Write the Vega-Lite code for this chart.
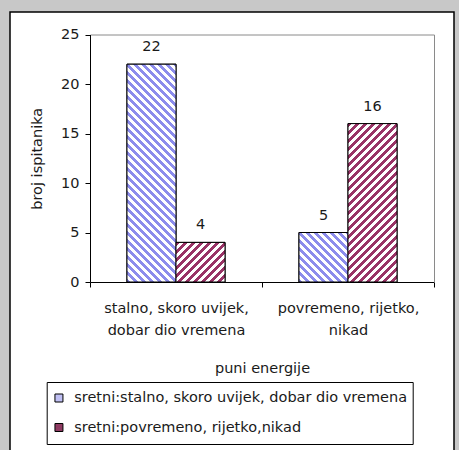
{
 "$schema": "https://vega.github.io/schema/vega-lite/v6.json",
 "autosize": {"type": "none"},
 "padding": {"left": 10, "top": 12, "right": 5, "bottom": -1},
 "width": 444,
 "height": 439,
 "background": "#c8c8c8",
 "config": {
  "view": {"fill": "white", "stroke": "black", "strokeWidth": 1.5},
  "font": "DejaVu Sans",
  "axis": {"labelFont": "DejaVu Sans", "titleFont": "DejaVu Sans", "labelFontSize": 14.5, "titleFontSize": 14.5, "titleFontWeight": "normal", "labelColor": "#1a1a1a", "titleColor": "#1a1a1a", "domainColor": "black", "tickColor": "black", "grid": false},
  "legend": {"labelFont": "DejaVu Sans", "labelFontSize": 14.5, "labelColor": "#1a1a1a"}
 },
 "params": [
  {"name": "bst", "value": [
{"offset":0,"color":"#8c8cec"},{"offset":0.0125,"color":"#8c8cec"},{"offset":0.0125,"color":"#fff"},{"offset":0.025,"color":"#fff"},
{"offset":0.025,"color":"#8c8cec"},{"offset":0.0375,"color":"#8c8cec"},{"offset":0.0375,"color":"#fff"},{"offset":0.05,"color":"#fff"},
{"offset":0.05,"color":"#8c8cec"},{"offset":0.0625,"color":"#8c8cec"},{"offset":0.0625,"color":"#fff"},{"offset":0.075,"color":"#fff"},
{"offset":0.075,"color":"#8c8cec"},{"offset":0.0875,"color":"#8c8cec"},{"offset":0.0875,"color":"#fff"},{"offset":0.1,"color":"#fff"},
{"offset":0.1,"color":"#8c8cec"},{"offset":0.1125,"color":"#8c8cec"},{"offset":0.1125,"color":"#fff"},{"offset":0.125,"color":"#fff"},
{"offset":0.125,"color":"#8c8cec"},{"offset":0.1375,"color":"#8c8cec"},{"offset":0.1375,"color":"#fff"},{"offset":0.15,"color":"#fff"},
{"offset":0.15,"color":"#8c8cec"},{"offset":0.1625,"color":"#8c8cec"},{"offset":0.1625,"color":"#fff"},{"offset":0.175,"color":"#fff"},
{"offset":0.175,"color":"#8c8cec"},{"offset":0.1875,"color":"#8c8cec"},{"offset":0.1875,"color":"#fff"},{"offset":0.2,"color":"#fff"},
{"offset":0.2,"color":"#8c8cec"},{"offset":0.2125,"color":"#8c8cec"},{"offset":0.2125,"color":"#fff"},{"offset":0.225,"color":"#fff"},
{"offset":0.225,"color":"#8c8cec"},{"offset":0.2375,"color":"#8c8cec"},{"offset":0.2375,"color":"#fff"},{"offset":0.25,"color":"#fff"},
{"offset":0.25,"color":"#8c8cec"},{"offset":0.2625,"color":"#8c8cec"},{"offset":0.2625,"color":"#fff"},{"offset":0.275,"color":"#fff"},
{"offset":0.275,"color":"#8c8cec"},{"offset":0.2875,"color":"#8c8cec"},{"offset":0.2875,"color":"#fff"},{"offset":0.3,"color":"#fff"},
{"offset":0.3,"color":"#8c8cec"},{"offset":0.3125,"color":"#8c8cec"},{"offset":0.3125,"color":"#fff"},{"offset":0.325,"color":"#fff"},
{"offset":0.325,"color":"#8c8cec"},{"offset":0.3375,"color":"#8c8cec"},{"offset":0.3375,"color":"#fff"},{"offset":0.35,"color":"#fff"},
{"offset":0.35,"color":"#8c8cec"},{"offset":0.3625,"color":"#8c8cec"},{"offset":0.3625,"color":"#fff"},{"offset":0.375,"color":"#fff"},
{"offset":0.375,"color":"#8c8cec"},{"offset":0.3875,"color":"#8c8cec"},{"offset":0.3875,"color":"#fff"},{"offset":0.4,"color":"#fff"},
{"offset":0.4,"color":"#8c8cec"},{"offset":0.4125,"color":"#8c8cec"},{"offset":0.4125,"color":"#fff"},{"offset":0.425,"color":"#fff"},
{"offset":0.425,"color":"#8c8cec"},{"offset":0.4375,"color":"#8c8cec"},{"offset":0.4375,"color":"#fff"},{"offset":0.45,"color":"#fff"},
{"offset":0.45,"color":"#8c8cec"},{"offset":0.4625,"color":"#8c8cec"},{"offset":0.4625,"color":"#fff"},{"offset":0.475,"color":"#fff"},
{"offset":0.475,"color":"#8c8cec"},{"offset":0.4875,"color":"#8c8cec"},{"offset":0.4875,"color":"#fff"},{"offset":0.5,"color":"#fff"},
{"offset":0.5,"color":"#8c8cec"},{"offset":0.5125,"color":"#8c8cec"},{"offset":0.5125,"color":"#fff"},{"offset":0.525,"color":"#fff"},
{"offset":0.525,"color":"#8c8cec"},{"offset":0.5375,"color":"#8c8cec"},{"offset":0.5375,"color":"#fff"},{"offset":0.55,"color":"#fff"},
{"offset":0.55,"color":"#8c8cec"},{"offset":0.5625,"color":"#8c8cec"},{"offset":0.5625,"color":"#fff"},{"offset":0.575,"color":"#fff"},
{"offset":0.575,"color":"#8c8cec"},{"offset":0.5875,"color":"#8c8cec"},{"offset":0.5875,"color":"#fff"},{"offset":0.6,"color":"#fff"},
{"offset":0.6,"color":"#8c8cec"},{"offset":0.6125,"color":"#8c8cec"},{"offset":0.6125,"color":"#fff"},{"offset":0.625,"color":"#fff"},
{"offset":0.625,"color":"#8c8cec"},{"offset":0.6375,"color":"#8c8cec"},{"offset":0.6375,"color":"#fff"},{"offset":0.65,"color":"#fff"},
{"offset":0.65,"color":"#8c8cec"},{"offset":0.6625,"color":"#8c8cec"},{"offset":0.6625,"color":"#fff"},{"offset":0.675,"color":"#fff"},
{"offset":0.675,"color":"#8c8cec"},{"offset":0.6875,"color":"#8c8cec"},{"offset":0.6875,"color":"#fff"},{"offset":0.7,"color":"#fff"},
{"offset":0.7,"color":"#8c8cec"},{"offset":0.7125,"color":"#8c8cec"},{"offset":0.7125,"color":"#fff"},{"offset":0.725,"color":"#fff"},
{"offset":0.725,"color":"#8c8cec"},{"offset":0.7375,"color":"#8c8cec"},{"offset":0.7375,"color":"#fff"},{"offset":0.75,"color":"#fff"},
{"offset":0.75,"color":"#8c8cec"},{"offset":0.7625,"color":"#8c8cec"},{"offset":0.7625,"color":"#fff"},{"offset":0.775,"color":"#fff"},
{"offset":0.775,"color":"#8c8cec"},{"offset":0.7875,"color":"#8c8cec"},{"offset":0.7875,"color":"#fff"},{"offset":0.8,"color":"#fff"},
{"offset":0.8,"color":"#8c8cec"},{"offset":0.8125,"color":"#8c8cec"},{"offset":0.8125,"color":"#fff"},{"offset":0.825,"color":"#fff"},
{"offset":0.825,"color":"#8c8cec"},{"offset":0.8375,"color":"#8c8cec"},{"offset":0.8375,"color":"#fff"},{"offset":0.85,"color":"#fff"}
  ]},
  {"name": "rst", "value": [
{"offset":0,"color":"#993366"},{"offset":0.0125,"color":"#993366"},{"offset":0.0125,"color":"#fff"},{"offset":0.025,"color":"#fff"},
{"offset":0.025,"color":"#993366"},{"offset":0.0375,"color":"#993366"},{"offset":0.0375,"color":"#fff"},{"offset":0.05,"color":"#fff"},
{"offset":0.05,"color":"#993366"},{"offset":0.0625,"color":"#993366"},{"offset":0.0625,"color":"#fff"},{"offset":0.075,"color":"#fff"},
{"offset":0.075,"color":"#993366"},{"offset":0.0875,"color":"#993366"},{"offset":0.0875,"color":"#fff"},{"offset":0.1,"color":"#fff"},
{"offset":0.1,"color":"#993366"},{"offset":0.1125,"color":"#993366"},{"offset":0.1125,"color":"#fff"},{"offset":0.125,"color":"#fff"},
{"offset":0.125,"color":"#993366"},{"offset":0.1375,"color":"#993366"},{"offset":0.1375,"color":"#fff"},{"offset":0.15,"color":"#fff"},
{"offset":0.15,"color":"#993366"},{"offset":0.1625,"color":"#993366"},{"offset":0.1625,"color":"#fff"},{"offset":0.175,"color":"#fff"},
{"offset":0.175,"color":"#993366"},{"offset":0.1875,"color":"#993366"},{"offset":0.1875,"color":"#fff"},{"offset":0.2,"color":"#fff"},
{"offset":0.2,"color":"#993366"},{"offset":0.2125,"color":"#993366"},{"offset":0.2125,"color":"#fff"},{"offset":0.225,"color":"#fff"},
{"offset":0.225,"color":"#993366"},{"offset":0.2375,"color":"#993366"},{"offset":0.2375,"color":"#fff"},{"offset":0.25,"color":"#fff"},
{"offset":0.25,"color":"#993366"},{"offset":0.2625,"color":"#993366"},{"offset":0.2625,"color":"#fff"},{"offset":0.275,"color":"#fff"},
{"offset":0.275,"color":"#993366"},{"offset":0.2875,"color":"#993366"},{"offset":0.2875,"color":"#fff"},{"offset":0.3,"color":"#fff"},
{"offset":0.3,"color":"#993366"},{"offset":0.3125,"color":"#993366"},{"offset":0.3125,"color":"#fff"},{"offset":0.325,"color":"#fff"},
{"offset":0.325,"color":"#993366"},{"offset":0.3375,"color":"#993366"},{"offset":0.3375,"color":"#fff"},{"offset":0.35,"color":"#fff"},
{"offset":0.35,"color":"#993366"},{"offset":0.3625,"color":"#993366"},{"offset":0.3625,"color":"#fff"},{"offset":0.375,"color":"#fff"},
{"offset":0.375,"color":"#993366"},{"offset":0.3875,"color":"#993366"},{"offset":0.3875,"color":"#fff"},{"offset":0.4,"color":"#fff"},
{"offset":0.4,"color":"#993366"},{"offset":0.4125,"color":"#993366"},{"offset":0.4125,"color":"#fff"},{"offset":0.425,"color":"#fff"},
{"offset":0.425,"color":"#993366"},{"offset":0.4375,"color":"#993366"},{"offset":0.4375,"color":"#fff"},{"offset":0.45,"color":"#fff"},
{"offset":0.45,"color":"#993366"},{"offset":0.4625,"color":"#993366"},{"offset":0.4625,"color":"#fff"},{"offset":0.475,"color":"#fff"},
{"offset":0.475,"color":"#993366"},{"offset":0.4875,"color":"#993366"},{"offset":0.4875,"color":"#fff"},{"offset":0.5,"color":"#fff"},
{"offset":0.5,"color":"#993366"},{"offset":0.5125,"color":"#993366"},{"offset":0.5125,"color":"#fff"},{"offset":0.525,"color":"#fff"},
{"offset":0.525,"color":"#993366"},{"offset":0.5375,"color":"#993366"},{"offset":0.5375,"color":"#fff"},{"offset":0.55,"color":"#fff"},
{"offset":0.55,"color":"#993366"},{"offset":0.5625,"color":"#993366"},{"offset":0.5625,"color":"#fff"},{"offset":0.575,"color":"#fff"},
{"offset":0.575,"color":"#993366"},{"offset":0.5875,"color":"#993366"},{"offset":0.5875,"color":"#fff"},{"offset":0.6,"color":"#fff"},
{"offset":0.6,"color":"#993366"},{"offset":0.6125,"color":"#993366"},{"offset":0.6125,"color":"#fff"},{"offset":0.625,"color":"#fff"},
{"offset":0.625,"color":"#993366"},{"offset":0.6375,"color":"#993366"},{"offset":0.6375,"color":"#fff"},{"offset":0.65,"color":"#fff"},
{"offset":0.65,"color":"#993366"},{"offset":0.6625,"color":"#993366"},{"offset":0.6625,"color":"#fff"},{"offset":0.675,"color":"#fff"},
{"offset":0.675,"color":"#993366"},{"offset":0.6875,"color":"#993366"},{"offset":0.6875,"color":"#fff"},{"offset":0.7,"color":"#fff"}
  ]}
 ],
 "data": {"values": [
  {"category": "stalno, skoro uvijek, dobar dio vremena", "series": "sretni:stalno, skoro uvijek, dobar dio vremena", "count": 22},
  {"category": "stalno, skoro uvijek, dobar dio vremena", "series": "sretni:povremeno, rijetko,nikad", "count": 4},
  {"category": "povremeno, rijetko, nikad", "series": "sretni:stalno, skoro uvijek, dobar dio vremena", "count": 5},
  {"category": "povremeno, rijetko, nikad", "series": "sretni:povremeno, rijetko,nikad", "count": 16}
 ]},
 "encoding": {
  "x": {"field": "category", "type": "nominal", "axis": null,
        "scale": {"domain": ["stalno, skoro uvijek, dobar dio vremena", "povremeno, rijetko, nikad"], "range": [80, 424], "paddingInner": 0, "paddingOuter": 0}},
  "xOffset": {"field": "series", "type": "nominal",
        "scale": {"domain": ["sretni:stalno, skoro uvijek, dobar dio vremena", "sretni:povremeno, rijetko,nikad"], "paddingInner": 0, "paddingOuter": 0.7545}},
  "y": {"field": "count", "type": "quantitative", "axis": null,
        "scale": {"domain": [0, 25], "range": [270, 22.5], "nice": false}}
 },
 "layer": [
  {
   "mark": {"type": "bar", "stroke": "black", "strokeWidth": 1},
   "encoding": {
    "x": {"field": "category", "type": "nominal",
          "scale": {"domain": ["stalno, skoro uvijek, dobar dio vremena", "povremeno, rijetko, nikad"], "range": [80, 424], "paddingInner": 0, "paddingOuter": 0},
          "axis": {"title": "puni energije", "orient": "bottom", "offset": -169, "tickBand": "extent", "tickSize": 5, "labelAngle": 0, "labelPadding": 14, "labelLineHeight": 22, "labelLimit": 250, "titlePadding": 25,
                   "labelExpr": "datum.value == 'povremeno, rijetko, nikad' ? ['povremeno, rijetko,', 'nikad'] : (datum.value == 'stalno, skoro uvijek, dobar dio vremena' ? ['stalno, skoro uvijek,', 'dobar dio vremena'] : '')"}},
    "y": {"field": "count", "type": "quantitative",
          "scale": {"domain": [0, 25], "range": [270, 22.5], "nice": false},
          "axis": {"title": "broj ispitanika", "orient": "left", "offset": -80, "values": [0, 5, 10, 15, 20, 25], "tickSize": 5, "labelPadding": 6, "titlePadding": 16}},
    "color": {"field": "series", "type": "nominal",
          "scale": {"domain": ["sretni:stalno, skoro uvijek, dobar dio vremena", "sretni:povremeno, rijetko,nikad"], "range": ["#c0c0f4", "#8e3a62"]},
          "legend": {"title": null, "orient": "none", "legendX": 36.7, "legendY": 370, "direction": "vertical", "symbolType": "square", "symbolSize": 64, "symbolStrokeColor": "black", "symbolStrokeWidth": 1, "labelOffset": 8, "padding": 5, "rowPadding": 7.5, "clipHeight": 22, "strokeColor": "black", "fillColor": "white", "labelLimit": 400}}
   }
  },
  {
   "transform": [{"filter": "datum.count == 22"}],
   "mark": {"type": "bar", "stroke": "black", "strokeWidth": 1, "fill": {"expr": "{gradient: 'linear', x1: 0, y1: 1, x2: 0.3147, y2: -0.3984, stops: bst}"}}
  },
  {
   "transform": [{"filter": "datum.count == 5"}],
   "mark": {"type": "bar", "stroke": "black", "strokeWidth": 1, "fill": {"expr": "{gradient: 'linear', x1: 0, y1: 1, x2: 3.2321, y2: -2.2638, stops: bst}"}}
  },
  {
   "transform": [{"filter": "datum.count == 4"}],
   "mark": {"type": "bar", "stroke": "black", "strokeWidth": 1, "fill": {"expr": "{gradient: 'linear', x1: 0, y1: 0, x2: 3.95, y2: 3.191, stops: rst}"}}
  },
  {
   "transform": [{"filter": "datum.count == 16"}],
   "mark": {"type": "bar", "stroke": "black", "strokeWidth": 1, "fill": {"expr": "{gradient: 'linear', x1: 0, y1: 0, x2: 0.5706, y2: 1.8436, stops: rst}"}}
  },
  {
   "mark": {"type": "text", "dy": -13, "baseline": "alphabetic", "align": "center", "fontSize": 14.5, "font": "DejaVu Sans", "color": "#1a1a1a"},
   "encoding": {
    "text": {"field": "count", "type": "quantitative"},
    "x": {"field": "category", "type": "nominal",
          "scale": {"domain": ["stalno, skoro uvijek, dobar dio vremena", "povremeno, rijetko, nikad"], "range": [80, 424], "paddingInner": 0, "paddingOuter": 0},
          "axis": {"orient": "top", "offset": -22.5, "domainColor": "#8a8a8a", "ticks": false, "labels": false, "title": null}},
    "y": {"field": "count", "type": "quantitative",
          "scale": {"domain": [0, 25], "range": [270, 22.5], "nice": false},
          "axis": {"orient": "right", "offset": -20, "domainColor": "#8a8a8a", "ticks": false, "labels": false, "title": null}}
   }
  }
 ],
 "resolve": {"axis": {"x": "independent", "y": "independent"}}
}
